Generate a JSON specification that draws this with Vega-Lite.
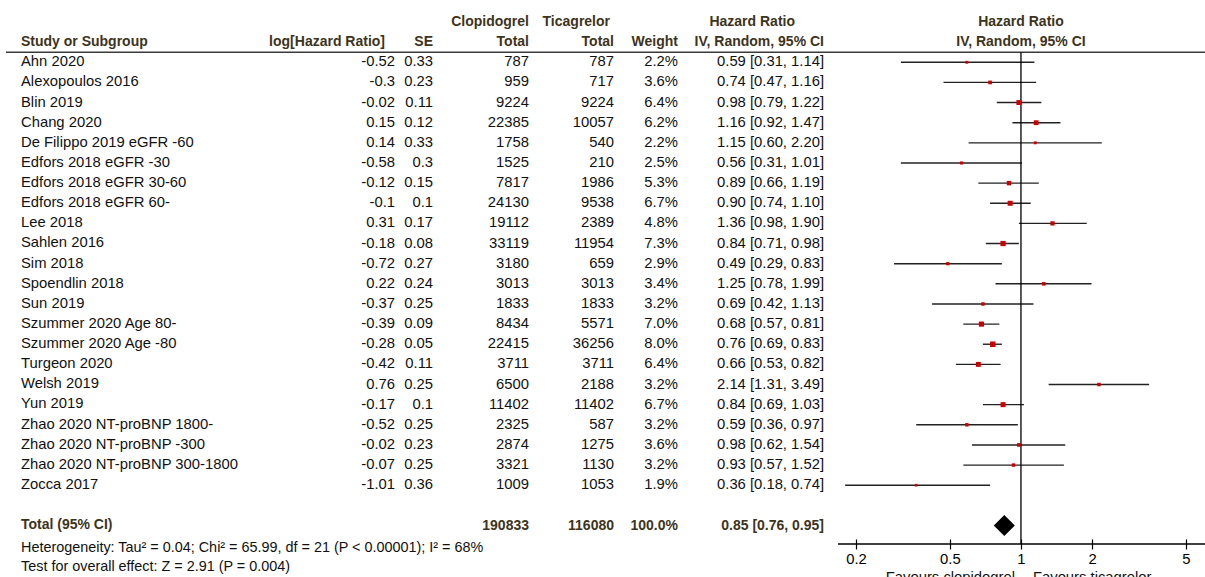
{
  "$schema": "https://vega.github.io/schema/vega-lite/v6.json",
  "background": "white",
  "padding": {"left": 5, "top": 0, "right": 0, "bottom": 0},
  "spacing": 0,
  "bounds": "flush",
  "config": {
    "view": {"stroke": null},
    "font": "Liberation Sans",
    "text": {"fontSize": 14.8, "color": "#111111"}
  },
  "datasets": {
    "studies": [
      {"study": "Ahn 2020", "loghr": -0.52, "se": 0.33, "clop": 787, "tica": 787, "weight": 0.022, "hr": 0.59, "lo": 0.31, "hi": 1.14},
      {"study": "Alexopoulos 2016", "loghr": -0.3, "se": 0.23, "clop": 959, "tica": 717, "weight": 0.036, "hr": 0.74, "lo": 0.47, "hi": 1.16},
      {"study": "Blin 2019", "loghr": -0.02, "se": 0.11, "clop": 9224, "tica": 9224, "weight": 0.064, "hr": 0.98, "lo": 0.79, "hi": 1.22},
      {"study": "Chang 2020", "loghr": 0.15, "se": 0.12, "clop": 22385, "tica": 10057, "weight": 0.062, "hr": 1.16, "lo": 0.92, "hi": 1.47},
      {"study": "De Filippo 2019 eGFR -60", "loghr": 0.14, "se": 0.33, "clop": 1758, "tica": 540, "weight": 0.022, "hr": 1.15, "lo": 0.60, "hi": 2.20},
      {"study": "Edfors 2018 eGFR -30", "loghr": -0.58, "se": 0.3, "clop": 1525, "tica": 210, "weight": 0.025, "hr": 0.56, "lo": 0.31, "hi": 1.01},
      {"study": "Edfors 2018 eGFR 30-60", "loghr": -0.12, "se": 0.15, "clop": 7817, "tica": 1986, "weight": 0.053, "hr": 0.89, "lo": 0.66, "hi": 1.19},
      {"study": "Edfors 2018 eGFR 60-", "loghr": -0.1, "se": 0.1, "clop": 24130, "tica": 9538, "weight": 0.067, "hr": 0.90, "lo": 0.74, "hi": 1.10},
      {"study": "Lee 2018", "loghr": 0.31, "se": 0.17, "clop": 19112, "tica": 2389, "weight": 0.048, "hr": 1.36, "lo": 0.98, "hi": 1.90},
      {"study": "Sahlen 2016", "loghr": -0.18, "se": 0.08, "clop": 33119, "tica": 11954, "weight": 0.073, "hr": 0.84, "lo": 0.71, "hi": 0.98},
      {"study": "Sim 2018", "loghr": -0.72, "se": 0.27, "clop": 3180, "tica": 659, "weight": 0.029, "hr": 0.49, "lo": 0.29, "hi": 0.83},
      {"study": "Spoendlin 2018", "loghr": 0.22, "se": 0.24, "clop": 3013, "tica": 3013, "weight": 0.034, "hr": 1.25, "lo": 0.78, "hi": 1.99},
      {"study": "Sun 2019", "loghr": -0.37, "se": 0.25, "clop": 1833, "tica": 1833, "weight": 0.032, "hr": 0.69, "lo": 0.42, "hi": 1.13},
      {"study": "Szummer 2020 Age 80-", "loghr": -0.39, "se": 0.09, "clop": 8434, "tica": 5571, "weight": 0.070, "hr": 0.68, "lo": 0.57, "hi": 0.81},
      {"study": "Szummer 2020 Age -80", "loghr": -0.28, "se": 0.05, "clop": 22415, "tica": 36256, "weight": 0.080, "hr": 0.76, "lo": 0.69, "hi": 0.83},
      {"study": "Turgeon 2020", "loghr": -0.42, "se": 0.11, "clop": 3711, "tica": 3711, "weight": 0.064, "hr": 0.66, "lo": 0.53, "hi": 0.82},
      {"study": "Welsh 2019", "loghr": 0.76, "se": 0.25, "clop": 6500, "tica": 2188, "weight": 0.032, "hr": 2.14, "lo": 1.31, "hi": 3.49},
      {"study": "Yun 2019", "loghr": -0.17, "se": 0.1, "clop": 11402, "tica": 11402, "weight": 0.067, "hr": 0.84, "lo": 0.69, "hi": 1.03},
      {"study": "Zhao 2020 NT-proBNP 1800-", "loghr": -0.52, "se": 0.25, "clop": 2325, "tica": 587, "weight": 0.032, "hr": 0.59, "lo": 0.36, "hi": 0.97},
      {"study": "Zhao 2020 NT-proBNP -300", "loghr": -0.02, "se": 0.23, "clop": 2874, "tica": 1275, "weight": 0.036, "hr": 0.98, "lo": 0.62, "hi": 1.54},
      {"study": "Zhao 2020 NT-proBNP 300-1800", "loghr": -0.07, "se": 0.25, "clop": 3321, "tica": 1130, "weight": 0.032, "hr": 0.93, "lo": 0.57, "hi": 1.52},
      {"study": "Zocca 2017", "loghr": -1.01, "se": 0.36, "clop": 1009, "tica": 1053, "weight": 0.019, "hr": 0.36, "lo": 0.18, "hi": 0.74}
    ],
    "total": [
      {"study": "Total (95% CI)", "clop": 190833, "tica": 116080, "weight": 1.0, "hr": 0.85, "lo": 0.76, "hi": 0.95}
    ]
  },
  "hconcat": [
    {
      "width": 245, "height": 584,
      "layer": [
        {"data": {"values": [{}]}, "mark": {"type": "rule", "color": "#3a3a3a", "strokeWidth": 1.5},
         "encoding": {"y": {"datum": "h2", "type": "nominal", "bandPosition": 1, "axis": null,
           "scale": {"type": "band", "paddingInner": 0, "paddingOuter": 0.5055, "align": 0.586, "domain": ["h1","h2","Ahn 2020","Alexopoulos 2016","Blin 2019","Chang 2020","De Filippo 2019 eGFR -60","Edfors 2018 eGFR -30","Edfors 2018 eGFR 30-60","Edfors 2018 eGFR 60-","Lee 2018","Sahlen 2016","Sim 2018","Spoendlin 2018","Sun 2019","Szummer 2020 Age 80-","Szummer 2020 Age -80","Turgeon 2020","Welsh 2019","Yun 2019","Zhao 2020 NT-proBNP 1800-","Zhao 2020 NT-proBNP -300","Zhao 2020 NT-proBNP 300-1800","Zocca 2017","gap","Total (95% CI)","het","test"]}}}},
        {"data": {"values": [{}]}, "mark": {"type": "text", "align": "left", "dx": 15, "fontWeight": "bold", "fontSize": 14, "color": "#3d3420"},
         "encoding": {"x": {"value": 0}, "y": {"datum": "h2", "type": "nominal", "axis": null}, "text": {"value": "Study or Subgroup"}}},
        {"data": {"name": "studies"}, "mark": {"type": "text", "align": "left", "dx": 15},
         "encoding": {"x": {"value": 0}, "y": {"field": "study", "type": "nominal", "axis": null}, "text": {"field": "study", "type": "nominal"}}},
        {"data": {"name": "total"}, "mark": {"type": "text", "align": "left", "dx": 15, "fontWeight": "bold", "fontSize": 14, "color": "#3d3420"},
         "encoding": {"x": {"value": 0}, "y": {"field": "study", "type": "nominal", "axis": null}, "text": {"field": "study", "type": "nominal"}}},
        {"data": {"values": [{}]}, "mark": {"type": "text", "align": "left", "dx": 15, "dy": 3, "fontSize": 14.4},
         "encoding": {"x": {"value": 0}, "y": {"datum": "het", "type": "nominal", "axis": null}, "text": {"value": "Heterogeneity: Tau² = 0.04; Chi² = 65.99, df = 21 (P < 0.00001); I² = 68%"}}},
        {"data": {"values": [{}]}, "mark": {"type": "text", "align": "left", "dx": 15, "dy": 1, "fontSize": 14.4},
         "encoding": {"x": {"value": 0}, "y": {"datum": "test", "type": "nominal", "axis": null}, "text": {"value": "Test for overall effect: Z = 2.91 (P = 0.004)"}}}
      ]
    },
    {
      "width": 144, "height": 544,
      "encoding": {"y": {"field": "study", "type": "nominal", "axis": null,
        "scale": {"type": "band", "paddingInner": 0, "paddingOuter": 0.5055, "align": 0.586, "domain": ["h1","h2","Ahn 2020","Alexopoulos 2016","Blin 2019","Chang 2020","De Filippo 2019 eGFR -60","Edfors 2018 eGFR -30","Edfors 2018 eGFR 30-60","Edfors 2018 eGFR 60-","Lee 2018","Sahlen 2016","Sim 2018","Spoendlin 2018","Sun 2019","Szummer 2020 Age 80-","Szummer 2020 Age -80","Turgeon 2020","Welsh 2019","Yun 2019","Zhao 2020 NT-proBNP 1800-","Zhao 2020 NT-proBNP -300","Zhao 2020 NT-proBNP 300-1800","Zocca 2017","gap","Total (95% CI)"]}}},
      "layer": [
        {"data": {"values": [{}]}, "mark": {"type": "rule", "color": "#3a3a3a", "strokeWidth": 1.5},
         "encoding": {"y": {"datum": "h2", "type": "nominal", "bandPosition": 1}}},
        {"data": {"values": [{}]}, "mark": {"type": "text", "align": "right", "dx": -10, "fontWeight": "bold", "fontSize": 14, "color": "#3d3420"},
         "encoding": {"x": {"value": "width"}, "y": {"datum": "h2", "type": "nominal"}, "text": {"value": "log[Hazard Ratio]"}}},
        {"data": {"name": "studies"}, "mark": {"type": "text", "align": "right"},
         "encoding": {"x": {"value": "width"}, "text": {"field": "loghr", "type": "nominal"}}}
      ]
    },
    {
      "width": 38, "height": 544,
      "encoding": {"y": {"field": "study", "type": "nominal", "axis": null,
        "scale": {"type": "band", "paddingInner": 0, "paddingOuter": 0.5055, "align": 0.586, "domain": ["h1","h2","Ahn 2020","Alexopoulos 2016","Blin 2019","Chang 2020","De Filippo 2019 eGFR -60","Edfors 2018 eGFR -30","Edfors 2018 eGFR 30-60","Edfors 2018 eGFR 60-","Lee 2018","Sahlen 2016","Sim 2018","Spoendlin 2018","Sun 2019","Szummer 2020 Age 80-","Szummer 2020 Age -80","Turgeon 2020","Welsh 2019","Yun 2019","Zhao 2020 NT-proBNP 1800-","Zhao 2020 NT-proBNP -300","Zhao 2020 NT-proBNP 300-1800","Zocca 2017","gap","Total (95% CI)"]}}},
      "layer": [
        {"data": {"values": [{}]}, "mark": {"type": "rule", "color": "#3a3a3a", "strokeWidth": 1.5},
         "encoding": {"y": {"datum": "h2", "type": "nominal", "bandPosition": 1}}},
        {"data": {"values": [{}]}, "mark": {"type": "text", "align": "right", "fontWeight": "bold", "fontSize": 14, "color": "#3d3420"},
         "encoding": {"x": {"value": "width"}, "y": {"datum": "h2", "type": "nominal"}, "text": {"value": "SE"}}},
        {"data": {"name": "studies"}, "mark": {"type": "text", "align": "right"},
         "encoding": {"x": {"value": "width"}, "text": {"field": "se", "type": "nominal"}}}
      ]
    },
    {
      "width": 96, "height": 544,
      "encoding": {"y": {"field": "study", "type": "nominal", "axis": null,
        "scale": {"type": "band", "paddingInner": 0, "paddingOuter": 0.5055, "align": 0.586, "domain": ["h1","h2","Ahn 2020","Alexopoulos 2016","Blin 2019","Chang 2020","De Filippo 2019 eGFR -60","Edfors 2018 eGFR -30","Edfors 2018 eGFR 30-60","Edfors 2018 eGFR 60-","Lee 2018","Sahlen 2016","Sim 2018","Spoendlin 2018","Sun 2019","Szummer 2020 Age 80-","Szummer 2020 Age -80","Turgeon 2020","Welsh 2019","Yun 2019","Zhao 2020 NT-proBNP 1800-","Zhao 2020 NT-proBNP -300","Zhao 2020 NT-proBNP 300-1800","Zocca 2017","gap","Total (95% CI)"]}}},
      "layer": [
        {"data": {"values": [{}]}, "mark": {"type": "rule", "color": "#3a3a3a", "strokeWidth": 1.5},
         "encoding": {"y": {"datum": "h2", "type": "nominal", "bandPosition": 1}}},
        {"data": {"values": [{}]}, "mark": {"type": "text", "align": "right", "fontWeight": "bold", "fontSize": 14, "color": "#3d3420"},
         "encoding": {"x": {"value": "width"}, "y": {"datum": "h1", "type": "nominal"}, "text": {"value": "Clopidogrel"}}},
        {"data": {"values": [{}]}, "mark": {"type": "text", "align": "right", "fontWeight": "bold", "fontSize": 14, "color": "#3d3420"},
         "encoding": {"x": {"value": "width"}, "y": {"datum": "h2", "type": "nominal"}, "text": {"value": "Total"}}},
        {"data": {"name": "studies"}, "mark": {"type": "text", "align": "right"},
         "encoding": {"x": {"value": "width"}, "text": {"field": "clop", "type": "nominal"}}},
        {"data": {"name": "total"}, "mark": {"type": "text", "align": "right", "fontWeight": "bold", "fontSize": 14, "color": "#3d3420"},
         "encoding": {"x": {"value": "width"}, "text": {"field": "clop", "type": "nominal"}}}
      ]
    },
    {
      "width": 85, "height": 544,
      "encoding": {"y": {"field": "study", "type": "nominal", "axis": null,
        "scale": {"type": "band", "paddingInner": 0, "paddingOuter": 0.5055, "align": 0.586, "domain": ["h1","h2","Ahn 2020","Alexopoulos 2016","Blin 2019","Chang 2020","De Filippo 2019 eGFR -60","Edfors 2018 eGFR -30","Edfors 2018 eGFR 30-60","Edfors 2018 eGFR 60-","Lee 2018","Sahlen 2016","Sim 2018","Spoendlin 2018","Sun 2019","Szummer 2020 Age 80-","Szummer 2020 Age -80","Turgeon 2020","Welsh 2019","Yun 2019","Zhao 2020 NT-proBNP 1800-","Zhao 2020 NT-proBNP -300","Zhao 2020 NT-proBNP 300-1800","Zocca 2017","gap","Total (95% CI)"]}}},
      "layer": [
        {"data": {"values": [{}]}, "mark": {"type": "rule", "color": "#3a3a3a", "strokeWidth": 1.5},
         "encoding": {"y": {"datum": "h2", "type": "nominal", "bandPosition": 1}}},
        {"data": {"values": [{}]}, "mark": {"type": "text", "align": "right", "dx": -4, "fontWeight": "bold", "fontSize": 14, "color": "#3d3420"},
         "encoding": {"x": {"value": "width"}, "y": {"datum": "h1", "type": "nominal"}, "text": {"value": "Ticagrelor"}}},
        {"data": {"values": [{}]}, "mark": {"type": "text", "align": "right", "fontWeight": "bold", "fontSize": 14, "color": "#3d3420"},
         "encoding": {"x": {"value": "width"}, "y": {"datum": "h2", "type": "nominal"}, "text": {"value": "Total"}}},
        {"data": {"name": "studies"}, "mark": {"type": "text", "align": "right"},
         "encoding": {"x": {"value": "width"}, "text": {"field": "tica", "type": "nominal"}}},
        {"data": {"name": "total"}, "mark": {"type": "text", "align": "right", "fontWeight": "bold", "fontSize": 14, "color": "#3d3420"},
         "encoding": {"x": {"value": "width"}, "text": {"field": "tica", "type": "nominal"}}}
      ]
    },
    {
      "width": 64, "height": 544,
      "encoding": {"y": {"field": "study", "type": "nominal", "axis": null,
        "scale": {"type": "band", "paddingInner": 0, "paddingOuter": 0.5055, "align": 0.586, "domain": ["h1","h2","Ahn 2020","Alexopoulos 2016","Blin 2019","Chang 2020","De Filippo 2019 eGFR -60","Edfors 2018 eGFR -30","Edfors 2018 eGFR 30-60","Edfors 2018 eGFR 60-","Lee 2018","Sahlen 2016","Sim 2018","Spoendlin 2018","Sun 2019","Szummer 2020 Age 80-","Szummer 2020 Age -80","Turgeon 2020","Welsh 2019","Yun 2019","Zhao 2020 NT-proBNP 1800-","Zhao 2020 NT-proBNP -300","Zhao 2020 NT-proBNP 300-1800","Zocca 2017","gap","Total (95% CI)"]}}},
      "layer": [
        {"data": {"values": [{}]}, "mark": {"type": "rule", "color": "#3a3a3a", "strokeWidth": 1.5},
         "encoding": {"y": {"datum": "h2", "type": "nominal", "bandPosition": 1}}},
        {"data": {"values": [{}]}, "mark": {"type": "text", "align": "right", "fontWeight": "bold", "fontSize": 14, "color": "#3d3420"},
         "encoding": {"x": {"value": "width"}, "y": {"datum": "h2", "type": "nominal"}, "text": {"value": "Weight"}}},
        {"data": {"name": "studies"}, "mark": {"type": "text", "align": "right"},
         "encoding": {"x": {"value": "width"}, "text": {"field": "weight", "type": "quantitative", "format": ".1%"}}},
        {"data": {"name": "total"}, "mark": {"type": "text", "align": "right", "fontWeight": "bold", "fontSize": 14, "color": "#3d3420"},
         "encoding": {"x": {"value": "width"}, "text": {"field": "weight", "type": "quantitative", "format": ".1%"}}}
      ]
    },
    {
      "width": 160, "height": 544,
      "encoding": {"y": {"field": "study", "type": "nominal", "axis": null,
        "scale": {"type": "band", "paddingInner": 0, "paddingOuter": 0.5055, "align": 0.586, "domain": ["h1","h2","Ahn 2020","Alexopoulos 2016","Blin 2019","Chang 2020","De Filippo 2019 eGFR -60","Edfors 2018 eGFR -30","Edfors 2018 eGFR 30-60","Edfors 2018 eGFR 60-","Lee 2018","Sahlen 2016","Sim 2018","Spoendlin 2018","Sun 2019","Szummer 2020 Age 80-","Szummer 2020 Age -80","Turgeon 2020","Welsh 2019","Yun 2019","Zhao 2020 NT-proBNP 1800-","Zhao 2020 NT-proBNP -300","Zhao 2020 NT-proBNP 300-1800","Zocca 2017","gap","Total (95% CI)"]}}},
      "layer": [
        {"data": {"values": [{}]}, "mark": {"type": "rule", "color": "#3a3a3a", "strokeWidth": 1.5},
         "encoding": {"y": {"datum": "h2", "type": "nominal", "bandPosition": 1}}},
        {"data": {"values": [{}]}, "mark": {"type": "text", "align": "right", "dx": -43, "fontWeight": "bold", "fontSize": 14, "color": "#3d3420"},
         "encoding": {"x": {"value": "width"}, "y": {"datum": "h1", "type": "nominal"}, "text": {"value": "Hazard Ratio"}}},
        {"data": {"values": [{}]}, "mark": {"type": "text", "align": "right", "dx": -14, "fontWeight": "bold", "fontSize": 14, "color": "#3d3420"},
         "encoding": {"x": {"value": "width"}, "y": {"datum": "h2", "type": "nominal"}, "text": {"value": "IV, Random, 95% CI"}}},
        {"data": {"name": "studies"},
         "transform": [{"calculate": "format(datum.hr, '.2f') + ' [' + format(datum.lo, '.2f') + ', ' + format(datum.hi, '.2f') + ']'", "as": "ci"}],
         "mark": {"type": "text", "align": "right", "dx": -14},
         "encoding": {"x": {"value": "width"}, "text": {"field": "ci", "type": "nominal"}}},
        {"data": {"name": "total"},
         "transform": [{"calculate": "format(datum.hr, '.2f') + ' [' + format(datum.lo, '.2f') + ', ' + format(datum.hi, '.2f') + ']'", "as": "ci"}],
         "mark": {"type": "text", "align": "right", "dx": -14, "fontWeight": "bold", "fontSize": 14, "color": "#3d3420"},
         "encoding": {"x": {"value": "width"}, "text": {"field": "ci", "type": "nominal"}}}
      ]
    },
    {
      "width": 368, "height": 544,
      "encoding": {
        "y": {"field": "study", "type": "nominal", "axis": null,
          "scale": {"type": "band", "paddingInner": 0, "paddingOuter": 0.5055, "align": 0.586, "domain": ["h1","h2","Ahn 2020","Alexopoulos 2016","Blin 2019","Chang 2020","De Filippo 2019 eGFR -60","Edfors 2018 eGFR -30","Edfors 2018 eGFR 30-60","Edfors 2018 eGFR 60-","Lee 2018","Sahlen 2016","Sim 2018","Spoendlin 2018","Sun 2019","Szummer 2020 Age 80-","Szummer 2020 Age -80","Turgeon 2020","Welsh 2019","Yun 2019","Zhao 2020 NT-proBNP 1800-","Zhao 2020 NT-proBNP -300","Zhao 2020 NT-proBNP 300-1800","Zocca 2017","gap","Total (95% CI)"]}}
      },
      "layer": [
        {"data": {"values": [{}]}, "mark": {"type": "rule", "color": "#3a3a3a", "strokeWidth": 1.5},
         "encoding": {"y": {"datum": "h2", "type": "nominal", "bandPosition": 1}}},
        {"data": {"name": "studies"}, "mark": {"type": "rule", "color": "#222222", "strokeWidth": 1.4},
         "encoding": {
           "x": {"field": "lo", "type": "quantitative",
             "scale": {"type": "log", "domain": [0.1679, 6.078], "nice": false},
             "axis": {"values": [0.2, 0.5, 1, 2, 5], "format": "~g", "domain": false, "offset": -5, "tickSize": 10, "tickColor": "#000000", "tickWidth": 1.2, "labelFontSize": 14.8, "labelColor": "#000000", "labelPadding": 2, "labelFlush": false, "labelOverlap": false, "grid": false, "title": null}},
           "x2": {"field": "hi"}}},
        {"data": {"values": [{}]}, "mark": {"type": "rule", "color": "#000000", "strokeWidth": 1.3},
         "encoding": {"x": {"datum": 1, "type": "quantitative"}, "y": {"datum": "h2", "type": "nominal", "bandPosition": 1}, "y2": {"value": "height"}}},
        {"data": {"values": [{}]}, "mark": {"type": "rule", "color": "#000000", "strokeWidth": 1.3},
         "encoding": {"y": {"value": "height"}}},
        {"data": {"name": "studies"}, "mark": {"type": "square", "color": "#cc0000", "opacity": 1},
         "encoding": {"x": {"field": "hr", "type": "quantitative"},
           "size": {"field": "weight", "type": "quantitative", "scale": {"domain": [0, 0.08], "range": [0, 30]}, "legend": null}}},
        {"data": {"name": "total"}, "mark": {"type": "point", "shape": "diamond", "filled": true, "color": "#000000", "opacity": 1, "size": 440},
         "encoding": {"x": {"field": "hr", "type": "quantitative"}}},
        {"data": {"values": [{}]}, "mark": {"type": "text", "align": "center", "fontWeight": "bold", "fontSize": 14, "color": "#3d3420"},
         "encoding": {"x": {"datum": 1, "type": "quantitative"}, "y": {"datum": "h1", "type": "nominal"}, "text": {"value": "Hazard Ratio"}}},
        {"data": {"values": [{}]}, "mark": {"type": "text", "align": "center", "fontWeight": "bold", "fontSize": 14, "color": "#3d3420"},
         "encoding": {"x": {"datum": 1, "type": "quantitative"}, "y": {"datum": "h2", "type": "nominal"}, "text": {"value": "IV, Random, 95% CI"}}},
        {"data": {"values": [{}]}, "mark": {"type": "text", "align": "right", "dx": -6, "dy": 34},
         "encoding": {"x": {"datum": 1, "type": "quantitative"}, "y": {"value": "height"}, "text": {"value": "Favours clopidogrel"}}},
        {"data": {"values": [{}]}, "mark": {"type": "text", "align": "left", "dx": 12, "dy": 34},
         "encoding": {"x": {"datum": 1, "type": "quantitative"}, "y": {"value": "height"}, "text": {"value": "Favours ticagrelor"}}}
      ]
    }
  ]
}
